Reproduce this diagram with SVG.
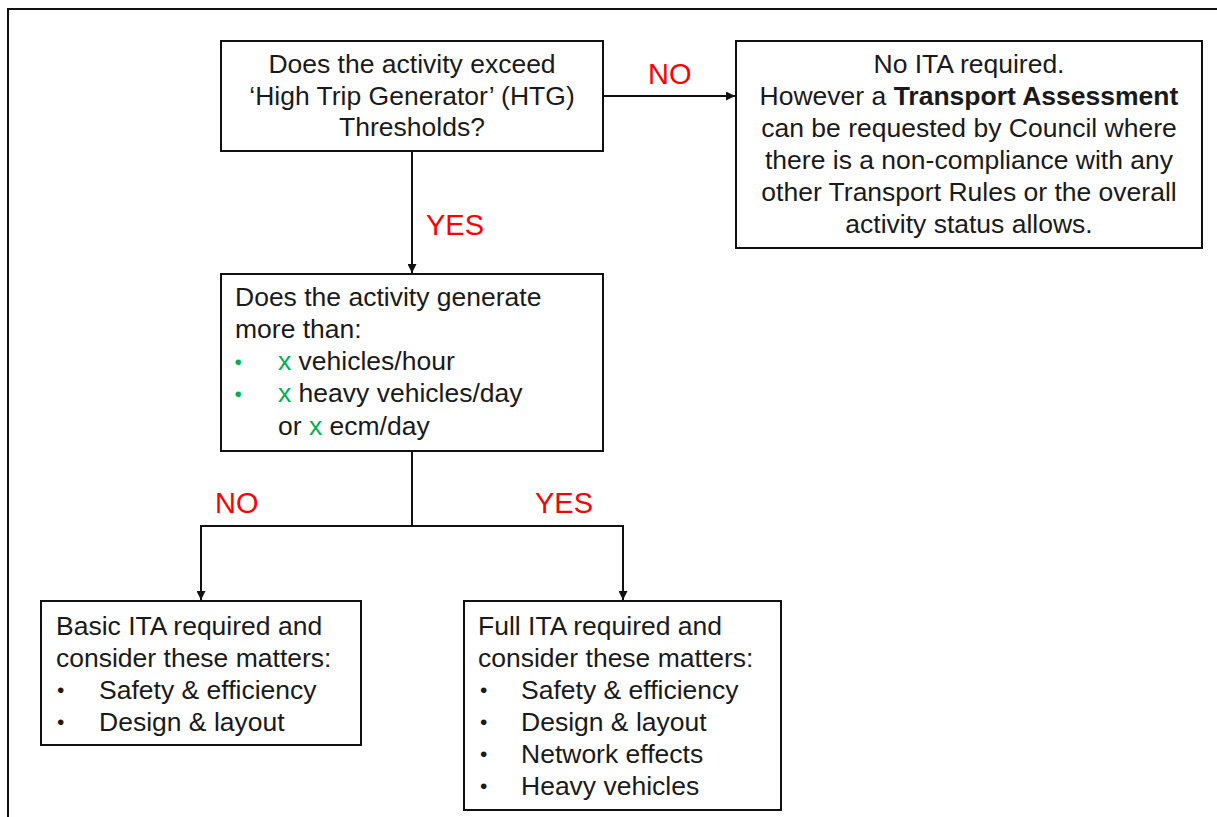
<svg xmlns="http://www.w3.org/2000/svg" width="1217" height="817" viewBox="0 0 1217 817">
  <style>
    .box { fill: #ffffff; stroke: #111111; stroke-width: 2; }
    .t { font-family: "Liberation Sans", Arial, sans-serif; font-size: 26.5px; fill: #1a1a1a; }
    .c { text-anchor: middle; }
    .b { font-family: "Liberation Sans", Arial, sans-serif; font-size: 21px; fill: #1a1a1a; }
    .lbl { font-family: "Liberation Sans", Arial, sans-serif; font-size: 29px; fill: #ff0000; }
    .g { fill: #00b050; }
    .wire { fill: none; stroke: #111111; stroke-width: 2; }
  </style>
  <defs>
    <marker id="arrow" viewBox="0 0 10 10" refX="10" refY="5" markerWidth="5" markerHeight="4.5" orient="auto" markerUnits="strokeWidth">
      <path d="M0,0 L10,5 L0,10 z" fill="#111111"/>
    </marker>
  </defs>

  <rect width="1217" height="817" fill="#ffffff"/>
  <!-- outer frame -->
  <rect x="8" y="9" width="1240" height="840" fill="none" stroke="#111111" stroke-width="2"/>

  <!-- connectors -->
  <g id="connectors">
    <path class="wire" d="M603,96 L735,96" marker-end="url(#arrow)"/>
    <path class="wire" d="M412,151 L412,273" marker-end="url(#arrow)"/>
    <path class="wire" d="M412,451 L412,526 M201,526 L623,526"/>
    <path class="wire" d="M201,525 L201,600" marker-end="url(#arrow)"/>
    <path class="wire" d="M623,525 L623,600" marker-end="url(#arrow)"/>
    <text class="lbl" x="648" y="84">NO</text>
    <text class="lbl" x="426" y="235">YES</text>
    <text class="lbl" x="215" y="513">NO</text>
    <text class="lbl" x="535" y="513">YES</text>
  </g>

  <!-- HTG threshold question -->
  <g id="node-htg">
    <rect class="box" x="221" y="41" width="382" height="110"/>
    <text class="t c" x="412" y="73">Does the activity exceed</text>
    <text class="t c" x="412" y="104.5">‘High Trip Generator’ (HTG)</text>
    <text class="t c" x="412" y="136">Thresholds?</text>
  </g>

  <!-- no ITA outcome -->
  <g id="node-no-ita">
    <rect class="box" x="736" y="41" width="466" height="207"/>
    <text class="t c" x="969" y="73">No ITA required.</text>
    <text class="t c" x="969" y="105">However a <tspan font-weight="bold">Transport Assessment</tspan></text>
    <text class="t c" x="969" y="137">can be requested by Council where</text>
    <text class="t c" x="969" y="169">there is a non-compliance with any</text>
    <text class="t c" x="969" y="201">other Transport Rules or the overall</text>
    <text class="t c" x="969" y="233">activity status allows.</text>
  </g>

  <!-- trip generation question -->
  <g id="node-generate">
    <rect class="box" x="221" y="274" width="382" height="177"/>
    <text class="t" x="235" y="305.5">Does the activity generate</text>
    <text class="t" x="235" y="338">more than:</text>
    <text class="b g" x="234.5" y="369">•</text>
    <text class="t" x="278" y="370"><tspan class="g">x</tspan> vehicles/hour</text>
    <text class="b g" x="234.5" y="401">•</text>
    <text class="t" x="278" y="402"><tspan class="g">x</tspan> heavy vehicles/day</text>
    <text class="t" x="278" y="435">or <tspan class="g">x</tspan> ecm/day</text>
  </g>

  <!-- basic ITA outcome -->
  <g id="node-basic">
    <rect class="box" x="41" y="601" width="320" height="144"/>
    <text class="t" x="56" y="635">Basic ITA required and</text>
    <text class="t" x="56" y="667">consider these matters:</text>
    <text class="b" x="57" y="697">•</text>
    <text class="t" x="99" y="699">Safety &amp; efficiency</text>
    <text class="b" x="57" y="729">•</text>
    <text class="t" x="99" y="731">Design &amp; layout</text>
  </g>

  <!-- full ITA outcome -->
  <g id="node-full">
    <rect class="box" x="464" y="601" width="317" height="209"/>
    <text class="t" x="478" y="635">Full ITA required and</text>
    <text class="t" x="478" y="667">consider these matters:</text>
    <text class="b" x="480" y="697">•</text>
    <text class="t" x="521" y="699">Safety &amp; efficiency</text>
    <text class="b" x="480" y="729">•</text>
    <text class="t" x="521" y="731">Design &amp; layout</text>
    <text class="b" x="480" y="761">•</text>
    <text class="t" x="521" y="763">Network effects</text>
    <text class="b" x="480" y="793">•</text>
    <text class="t" x="521" y="795">Heavy vehicles</text>
  </g>
</svg>
